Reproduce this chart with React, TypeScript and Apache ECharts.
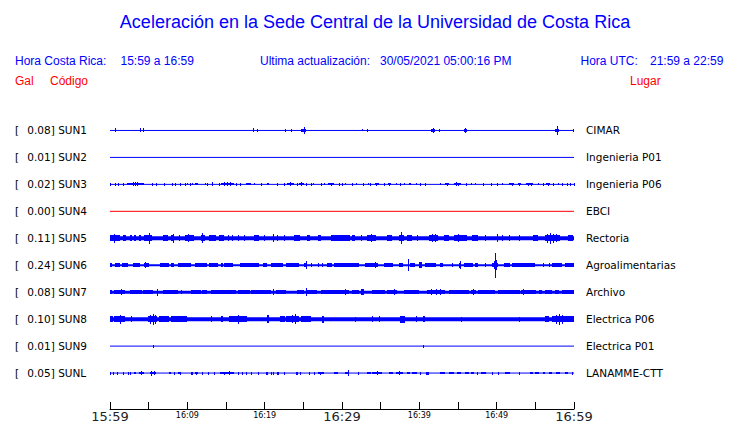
import React, { useEffect, useRef } from 'react';
import * as echarts from 'echarts';

// ---------- DATA ----------
const TITLE = 'Aceleración en la Sede Central de la Universidad de Costa Rica';
const LOCAL_RANGE = '15:59 a 16:59';
const UTC_RANGE = '21:59 a 22:59';
const UPDATED = '30/05/2021 05:00:16 PM';

const STATIONS = ['SUN1', 'SUN2', 'SUN3', 'SUN4', 'SUN5', 'SUN6', 'SUN7', 'SUN8', 'SUN9', 'SUNL'];
const PEAK_GAL = ['0.08', '0.01', '0.02', '0.00', '0.11', '0.24', '0.08', '0.10', '0.01', '0.05'];
const PLACES = ['CIMAR', 'Ingenieria P01', 'Ingenieria P06', 'EBCI', 'Rectoria', 'Agroalimentarias', 'Archivo', 'Electrica P06', 'Electrica P01', 'LANAMME-CTT'];

// minutes after 15:59, one tick every 5 minutes
const TICK_LABELS = ['15:59', '', '16:09', '', '16:19', '', '16:29', '', '16:39', '', '16:49', '', '16:59'];
const MAJOR_LABELS = ['15:59', '16:29', '16:59'];

// bursts of each trace: [start minute, end minute, half amplitude]
const SUN1 = [[0.7, 0.7, 2], [3.9, 3.9, 2], [4.3, 4.3, 2], [18.5, 18.5, 2], [19.1, 19.1, 1.5], [22.7, 22.7, 1.5], [23.5, 23.5, 1.5], [24.8, 25.4, 1.5], [25.1, 25.1, 3.5], [32.6, 32.6, 1], [33.3, 33.3, 1.5], [41.6, 42.1, 1.5], [41.8, 41.8, 2.5], [42.6, 42.6, 1.5], [45.9, 46.3, 1.5], [46.0, 46.0, 2.5], [57.6, 58.1, 1.5], [57.9, 57.9, 4.5], [59.9, 59.9, 1.5]];
const SUN2: number[][] = [];
const SUN3 = [[0.1, 0.1, 1.5], [0.7, 0.7, 1.5], [1.1, 1.1, 1.5], [1.8, 1.8, 1.5], [2.3, 4.5, 1], [3.0, 3.0, 2], [3.3, 3.3, 2], [3.6, 3.6, 2], [5.5, 5.5, 1.5], [6.0, 6.0, 1.5], [7.0, 7.0, 1.5], [8.1, 8.1, 1.5], [8.5, 8.5, 1.5], [9.1, 9.1, 1.5], [9.7, 9.7, 1.5], [10.0, 10.0, 1], [10.4, 10.4, 1.5], [10.7, 10.7, 1], [11.0, 11.4, 1], [12.3, 12.3, 1], [12.6, 12.6, 1.5], [13.2, 13.2, 2], [14.1, 14.1, 1.5], [14.4, 16.1, 1], [14.8, 14.8, 2], [15.2, 15.2, 2], [15.6, 15.6, 2], [16.4, 16.4, 1.5], [16.9, 16.9, 1.5], [17.6, 18.2, 1], [18.7, 18.7, 1], [19.6, 19.6, 1.5], [20.4, 20.7, 1], [21.6, 21.6, 1.5], [22.6, 22.6, 1.5], [23.0, 23.9, 1], [23.4, 23.4, 2], [24.2, 24.2, 1.5], [24.5, 25.1, 1], [24.8, 24.8, 2], [25.4, 25.4, 1.5], [26.0, 26.0, 1.5], [26.3, 26.3, 1], [27.4, 27.4, 1.5], [27.7, 27.7, 1], [28.2, 29.0, 1], [28.6, 28.6, 1.5], [29.7, 29.7, 1.5], [30.1, 30.1, 1.5], [30.5, 30.5, 1], [31.3, 31.3, 1.5], [31.9, 31.9, 1], [32.8, 32.8, 1.5], [33.4, 33.4, 1], [33.7, 33.7, 1.5], [34.3, 34.8, 1], [34.5, 34.5, 1.5], [35.5, 35.5, 1.5], [36.0, 36.4, 1], [36.2, 36.2, 1.5], [37.0, 37.0, 1], [37.5, 37.5, 1.5], [38.1, 38.1, 1], [38.7, 38.9, 1], [39.6, 39.6, 1], [40.1, 40.1, 1.5], [40.8, 40.8, 1.5], [42.8, 42.8, 1], [43.4, 43.9, 1], [43.7, 43.7, 1.5], [44.5, 45.4, 1], [44.8, 44.8, 2], [45.1, 45.1, 1.5], [46.1, 46.1, 1.5], [46.7, 46.7, 1], [47.3, 47.3, 1], [48.3, 48.3, 1.5], [49.3, 49.3, 1.5], [50.1, 50.1, 1.5], [50.8, 50.8, 1], [51.7, 52.3, 1], [52.0, 52.0, 1.5], [52.8, 53.2, 1], [53.0, 53.0, 1.5], [53.8, 54.7, 1], [54.1, 54.1, 1.5], [54.5, 54.5, 1.5], [55.4, 55.4, 1], [56.0, 56.0, 1.5], [56.4, 56.9, 1], [56.7, 56.7, 1.5], [57.4, 57.4, 1.5], [58.0, 58.0, 1], [58.5, 58.5, 1.5], [59.1, 59.1, 1.5], [59.6, 59.6, 1.5], [60.0, 60.0, 1.5]];
const SUN4: number[][] = [];
const SUN5 = [[0.0, 1.3, 3], [0.6, 0.7, 4.5], [1.7, 2.1, 3], [2.6, 2.9, 3], [3.2, 3.5, 3], [3.8, 4.1, 3], [4.4, 5.4, 3], [5.1, 5.2, 5.5], [6.9, 7.5, 3], [8.0, 8.4, 3], [8.2, 8.2, 4.5], [9.0, 9.0, 3], [9.7, 10.8, 3], [10.2, 10.2, 4], [11.8, 12.3, 3], [12.0, 12.1, 5], [12.9, 13.8, 3], [14.2, 14.8, 3], [15.3, 15.3, 3], [15.9, 15.9, 3], [16.6, 16.6, 3], [17.4, 17.4, 3], [18.7, 19.4, 3], [20.0, 20.0, 3], [21.1, 21.1, 4], [21.7, 21.7, 3], [22.6, 22.6, 3], [23.9, 24.7, 3], [25.6, 26.0, 3], [26.9, 27.3, 3], [28.6, 30.3, 3], [30.0, 31.0, 3], [31.4, 31.8, 3], [32.5, 32.5, 3], [33.3, 34.4, 3], [33.8, 33.8, 4], [35.9, 36.6, 3], [37.4, 38.1, 3], [37.7, 37.7, 6], [38.5, 39.1, 3], [39.8, 39.8, 3], [41.3, 42.4, 3], [41.7, 41.7, 4], [42.1, 42.1, 4], [43.2, 43.9, 3], [44.5, 46.2, 3], [45.0, 45.0, 4], [46.9, 47.7, 3], [48.6, 48.6, 3], [50.1, 50.1, 4], [50.7, 50.7, 3], [51.6, 51.6, 3], [52.9, 52.9, 3], [54.8, 55.5, 3], [56.3, 58.3, 3], [56.6, 56.6, 4.5], [56.9, 56.9, 5.5], [57.3, 57.3, 4.5], [57.7, 57.7, 4], [59.3, 60.0, 3]];
const SUN6 = [[0.0, 0.3, 2], [0.7, 1.4, 2], [1.6, 2.4, 2], [3.0, 3.9, 2], [4.5, 5.2, 2], [4.6, 4.6, 3], [6.5, 7.7, 2], [8.0, 8.4, 2], [8.8, 10.5, 2], [11.0, 12.5, 2], [12.9, 14.0, 2], [14.4, 14.6, 2], [14.8, 15.9, 2], [16.9, 19.4, 2], [19.9, 20.4, 2], [20.9, 22.4, 2], [22.8, 24.5, 2], [25.2, 25.6, 2], [25.4, 25.4, 4], [26.0, 26.0, 2], [26.9, 26.9, 2], [27.5, 27.5, 2], [28.1, 28.8, 2], [29.0, 30.3, 2], [29.7, 32.3, 2], [33.1, 34.8, 2], [34.3, 34.3, 3], [35.5, 36.6, 2], [37.4, 37.9, 2], [38.6, 38.6, 6], [38.9, 39.6, 2], [40.0, 40.4, 3], [40.8, 42.2, 2], [42.8, 43.2, 2], [44.3, 44.3, 2], [45.2, 45.5, 2.5], [45.3, 45.3, 4], [45.8, 46.9, 2], [47.3, 47.7, 2], [48.6, 48.6, 2], [49.5, 50.3, 2], [49.7, 49.7, 4], [49.85, 49.85, 12.5], [50.0, 50.0, 5], [51.0, 51.8, 2], [52.0, 55.0, 2], [56.1, 56.1, 2], [56.8, 56.8, 2], [57.2, 58.5, 2], [58.9, 60.0, 2]];
const SUN7 = [[0.0, 0.3, 2], [0.6, 2.0, 2], [1.5, 1.5, 3], [2.6, 4.1, 2], [4.3, 5.6, 2], [6.1, 6.1, 3.5], [6.9, 8.8, 2], [9.2, 9.2, 2], [10.5, 11.8, 2], [12.0, 12.7, 2], [13.1, 16.3, 2], [16.6, 18.1, 2], [18.3, 20.9, 2], [21.1, 21.1, 3], [21.5, 22.8, 2], [24.3, 25.2, 2], [25.4, 25.4, 4], [25.6, 26.9, 2], [27.3, 30.3, 2], [29.7, 31.0, 2], [30.5, 30.5, 3], [31.4, 32.3, 2], [32.5, 32.9, 3], [34.0, 35.7, 2], [35.9, 37.2, 2], [36.8, 36.8, 3], [38.1, 40.0, 2], [41.1, 43.4, 2], [41.6, 41.6, 3], [42.2, 42.2, 3], [42.8, 42.8, 3], [43.9, 46.5, 2], [46.7, 47.3, 2], [47.0, 47.0, 3], [47.7, 49.9, 2], [50.3, 53.1, 2], [53.2, 55.1, 2], [53.5, 53.5, 3], [55.5, 55.9, 2], [56.3, 57.2, 2], [57.6, 58.1, 2], [58.5, 60.0, 2]];
const SUN8 = [[0.0, 0.4, 3], [0.6, 2.0, 3], [1.3, 1.3, 4.5], [2.8, 2.8, 3], [5.0, 6.2, 3], [5.3, 5.3, 4.5], [5.6, 5.6, 5.5], [5.9, 5.9, 4.5], [6.4, 7.7, 3], [8.0, 10.1, 3], [13.1, 13.1, 3], [14.4, 14.6, 3], [15.5, 17.8, 3], [16.6, 16.6, 4.5], [20.4, 20.6, 4], [22.0, 22.6, 3], [22.8, 24.5, 3], [23.6, 23.6, 4], [24.0, 24.0, 5], [24.7, 26.0, 3], [27.5, 27.7, 3.5], [31.8, 31.8, 2.5], [33.9, 33.9, 3], [34.8, 34.8, 3], [37.6, 38.3, 3.5], [39.6, 39.6, 3], [40.5, 40.8, 3], [45.4, 45.4, 2.5], [52.9, 52.9, 2.5], [56.3, 56.8, 3], [57.2, 60.0, 3], [57.8, 57.8, 4.5], [58.1, 58.1, 5.5], [58.5, 58.5, 4.5]];
const SUN9 = [[5.6, 5.6, 1.5], [40.6, 40.6, 1.5]];
const SUNL = [[0.1, 0.1, 1.5], [0.4, 0.4, 1.5], [1.0, 1.0, 1.5], [1.7, 1.7, 1.5], [2.4, 2.4, 1.5], [2.7, 2.7, 1.5], [3.2, 3.4, 1], [3.8, 4.4, 1], [4.1, 4.1, 2], [5.2, 6.0, 1], [5.4, 5.4, 2.5], [5.8, 5.8, 2], [7.7, 8.0, 1], [8.4, 8.4, 1.5], [8.9, 9.3, 1], [9.1, 9.1, 1.5], [10.5, 10.7, 1.5], [11.0, 11.4, 1], [11.2, 11.2, 1.5], [12.0, 12.0, 1.5], [12.7, 12.7, 1.5], [13.5, 13.5, 1.5], [14.3, 16.1, 1], [14.8, 14.8, 1.5], [15.4, 15.4, 2], [16.6, 16.6, 1.5], [17.1, 17.1, 1.5], [17.6, 17.6, 1.5], [18.3, 18.3, 1.5], [19.2, 19.2, 1.5], [20.2, 20.4, 1.5], [20.9, 20.9, 1.5], [21.2, 21.2, 1.5], [21.7, 22.0, 1.5], [22.6, 22.6, 1.5], [24.1, 24.3, 1.5], [24.6, 24.6, 1.5], [25.8, 25.8, 1.5], [26.4, 26.4, 1.5], [26.9, 27.7, 1], [27.2, 27.2, 1.5], [29.0, 29.5, 1], [30.5, 31.0, 1], [30.8, 30.8, 3], [32.1, 32.1, 1.5], [33.3, 33.8, 1], [34.0, 35.3, 1], [34.6, 34.6, 2], [36.1, 36.6, 1], [37.0, 37.9, 1], [37.4, 37.4, 2], [38.5, 38.9, 1], [39.1, 39.8, 1], [40.2, 40.2, 1.5], [40.9, 41.3, 1.5], [42.8, 43.4, 1], [43.9, 44.5, 1], [44.9, 45.4, 1], [46.0, 46.5, 1], [46.7, 47.1, 1], [47.5, 47.5, 1.5], [48.0, 48.6, 1], [49.5, 49.5, 1.5], [50.3, 50.3, 1.5], [51.2, 51.8, 1], [52.9, 52.9, 1.5], [54.4, 54.8, 1], [55.0, 55.5, 1], [56.0, 56.3, 1], [56.8, 57.2, 1], [57.8, 58.3, 1], [58.9, 59.3, 1], [59.8, 59.8, 1.5]];
const BURSTS = [SUN1, SUN2, SUN3, SUN4, SUN5, SUN6, SUN7, SUN8, SUN9, SUNL];

// ---------- STYLE ----------
const BLUE = '#0000ff';
const RED = '#ff0000';
const TRACE_COLORS = [BLUE, BLUE, BLUE, RED, BLUE, BLUE, BLUE, BLUE, BLUE, BLUE];
const TRACE_WIDTHS = [1, 1, 1, 1, 4, 2, 3, 4, 1, 1];
const SPACING = 27;
const SANS = '"Liberation Sans", Arial, sans-serif';
const DEJAVU = '"DejaVu Sans", sans-serif';

export default function App() {
  const ref = useRef<HTMLDivElement>(null);

  useEffect(() => {
    document.body.style.margin = '0';
    const chart = echarts.init(ref.current as HTMLDivElement, null, { renderer: 'svg' });

    const series: any[] = [];
    STATIONS.forEach((code, i) => {
      const y = i * SPACING;
      const color = TRACE_COLORS[i];
      series.push({
        type: 'line',
        silent: true,
        symbol: 'circle',
        symbolSize: 0,
        showSymbol: true,
        z: 2,
        lineStyle: { color, width: TRACE_WIDTHS[i] },
        itemStyle: { color },
        data: [
          {
            value: [0, y],
            label: {
              show: true,
              position: 'left',
              distance: 22,
              formatter: `{br|[}{v|${PEAK_GAL[i]}] ${code}}`,
              rich: {
                br: { width: 12.3, align: 'left', fontFamily: DEJAVU, fontSize: 10.5, color: '#000' },
                v: { width: 60.7, align: 'left', fontFamily: DEJAVU, fontSize: 10.5, color: '#000' },
              },
            },
          },
          {
            value: [60, y],
            label: {
              show: true,
              position: 'right',
              distance: 12,
              formatter: PLACES[i],
              fontFamily: DEJAVU,
              fontSize: 10.5,
              color: '#000',
            },
          },
        ],
      });
      series.push({
        type: 'custom',
        silent: true,
        z: 3,
        data: BURSTS[i],
        encode: { x: [0, 1] },
        renderItem: (_params: any, api: any) => {
          const s = api.value(0);
          const e = api.value(1);
          const a = api.value(2);
          const p1 = api.coord([s, y - a]);
          const p2 = api.coord([e, y + a]);
          const x0 = Math.floor(p1[0]);
          const w = Math.max(Math.round(p2[0] - p1[0]), 1);
          const top = Math.round(Math.min(p1[1], p2[1]));
          const h = Math.round(Math.abs(p2[1] - p1[1]));
          return {
            type: 'rect',
            shape: { x: x0, y: top, width: w, height: h },
            style: { fill: color },
          };
        },
      });
    });

    const headerText = (text: string, x: number, y: number, fill: string, size = 12, align = 'left') => ({
      type: 'text',
      x,
      y,
      silent: true,
      style: {
        text,
        fill,
        font: `${size}px ${SANS}`,
        textAlign: align,
        align,
        textVerticalAlign: 'middle',
        verticalAlign: 'middle',
      },
    });

    chart.setOption({
      animation: false,
      backgroundColor: '#ffffff',
      grid: { left: 110, right: 166, top: 103.5, bottom: 13.5 },
      xAxis: {
        type: 'value',
        position: 'bottom',
        min: 0,
        max: 60,
        interval: 5,
        splitLine: { show: false },
        axisLine: { show: true, onZero: false, lineStyle: { color: '#000', width: 1 } },
        axisTick: { show: true, inside: true, length: 7, lineStyle: { color: '#000', width: 1 } },
        axisLabel: {
          margin: 1,
          showMinLabel: true,
          showMaxLabel: true,
          formatter: (v: number) => {
            const lab = TICK_LABELS[Math.round(v / 5)] || '';
            if (!lab) return '';
            return MAJOR_LABELS.includes(lab) ? `{big|${lab}}` : `{small|${lab}}`;
          },
          rich: {
            big: { fontFamily: DEJAVU, fontSize: 13, fontWeight: 'normal', color: '#222', lineHeight: 13 },
            small: { fontFamily: DEJAVU, fontSize: 8, fontWeight: 'normal', color: '#000', lineHeight: 10 },
          },
        },
      },
      yAxis: {
        type: 'value',
        min: -SPACING,
        max: 9 * SPACING + 36,
        inverse: true,
        show: false,
      },
      graphic: [
        headerText(TITLE, 375, 22, BLUE, 18, 'center'),
        headerText('Hora Costa Rica:', 15, 61, BLUE),
        headerText(LOCAL_RANGE, 120.5, 61, BLUE),
        headerText('Ultima actualización:', 260, 61, BLUE),
        headerText(UPDATED, 380, 61, BLUE),
        headerText('Hora UTC:', 580.5, 61, BLUE),
        headerText(UTC_RANGE, 650, 61, BLUE),
        headerText('Gal', 15, 81, RED),
        headerText('Código', 50, 81, RED),
        headerText('Lugar', 630, 81, RED),
      ],
      series,
    });

    return () => {
      chart.dispose();
    };
  }, []);

  return <div ref={ref} style={{ width: 740, height: 423 }} />;
}
